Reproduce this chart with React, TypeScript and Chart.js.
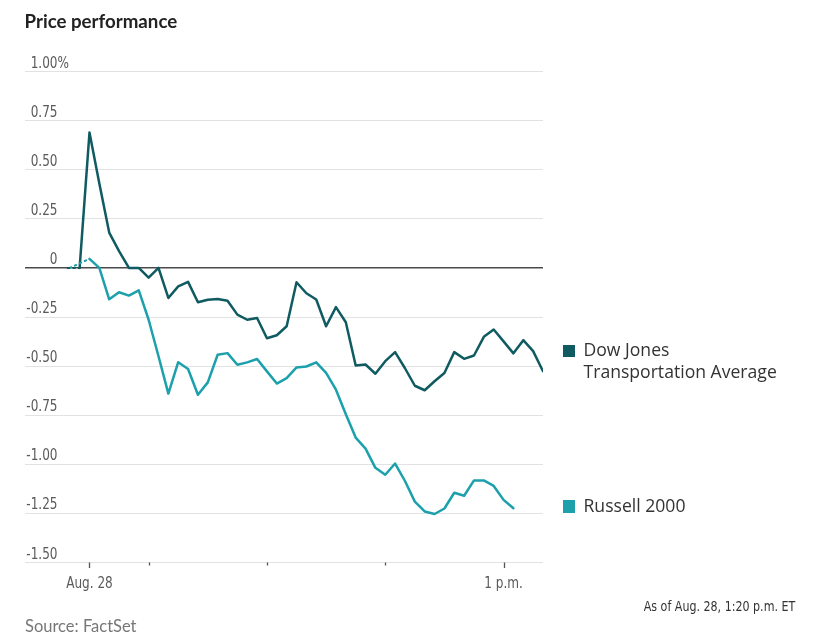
import React, { useEffect, useRef } from "react";
import { Chart, registerables } from "chart.js";

Chart.register(...registerables);

// ---- data (minutes after 9:30 a.m., 5-minute steps) ----
const STEP_MINUTES = 5;

const dowSeriesName = "Dow Jones Transportation Average";
const russellSeriesName = "Russell 2000";

// pre-market dotted segments (prior close -> open)
const dowPreTimes = [-11, -5];
const dowPreValues = [0, 0];
const russellPreTimes = [-10, 0];
const russellPreValues = [0, 0.046];

// first solid point of Dow before the 9:30 print
const dowLeadTime = -5;
const dowLeadValue = 0;

const dowValues = [
  0.689, 0.43, 0.18, 0.085, 0.0, 0.0, -0.05, 0.0, -0.153, -0.094,
  -0.071, -0.175, -0.162, -0.158, -0.167, -0.238, -0.264, -0.255, -0.358, -0.343,
  -0.297, -0.073, -0.129, -0.161, -0.297, -0.2, -0.277, -0.497, -0.492, -0.539,
  -0.475, -0.429, -0.511, -0.6, -0.623, -0.577, -0.535, -0.429, -0.463, -0.446,
  -0.351, -0.314, -0.374, -0.435, -0.368, -0.424, -0.526,
];

const russellValues = [
  0.046, 0.0, -0.16, -0.124, -0.141, -0.114, -0.264, -0.45, -0.64, -0.48,
  -0.515, -0.646, -0.583, -0.442, -0.434, -0.493, -0.481, -0.464, -0.527, -0.589,
  -0.561, -0.507, -0.502, -0.481, -0.535, -0.62, -0.745, -0.864, -0.92, -1.018,
  -1.053, -0.996, -1.085, -1.19, -1.24, -1.253, -1.225, -1.145, -1.16, -1.082,
  -1.082, -1.11, -1.181, -1.224,
];

const yTickValues = [1, 0.75, 0.5, 0.25, 0, -0.25, -0.5, -0.75, -1, -1.25, -1.5];
const yTickLabels = ["1.00%", "0.75", "0.50", "0.25", "0", "-0.25", "-0.50", "-0.75", "-1.00", "-1.25", "-1.50"];

const xTickValues = [0, 30, 90, 150, 210];
const xTickLabels = ["Aug. 28", "", "", "", "1 p.m."];

// ---- styles ----
const DOW_COLOR = "#0f5b61";
const RUSSELL_COLOR = "#1ba0ac";
const NARROW = "'Liberation Sans Narrow', 'DejaVu Sans Condensed', sans-serif";
const HUMAN = "Lato, 'Open Sans', sans-serif";
const LEGEND_FONT = "'Open Sans', Lato, sans-serif";
const SQUEEZE = 0.865;

const toPoints = (times: number[], values: number[]) =>
  values.map((v, i) => ({ x: times[i], y: v }));

function squeezedText(ctx: any, text: string, x: number, y: number, align: "left" | "right" | "center") {
  ctx.save();
  ctx.translate(x, y);
  ctx.scale(SQUEEZE, 1);
  ctx.textAlign = align;
  ctx.fillText(text, 0, 0);
  ctx.restore();
}

const axisTextPlugin = {
  id: "axisText",
  afterDraw(chart: any) {
    const { ctx, scales } = chart;
    const xs = scales.x;
    const ys = scales.y;
    const bottom = chart.chartArea.bottom;
    ctx.save();
    ctx.font = `15.5px ${NARROW}`;
    ctx.fillStyle = "#5a5a5a";
    ctx.textBaseline = "alphabetic";
    const rightX = 57.5;
    yTickValues.forEach((v, i) => {
      const y = ys.getPixelForValue(v) - 4;
      let label = yTickLabels[i];
      let suffix = "";
      if (label.endsWith("%")) {
        suffix = "%";
        label = label.slice(0, -1);
      }
      squeezedText(ctx, label, rightX, y, "right");
      if (suffix) squeezedText(ctx, suffix, rightX, y, "left");
    });
    ctx.strokeStyle = "#555";
    ctx.lineWidth = 1.3;
    xTickValues.forEach((v, i) => {
      const x = Math.round(xs.getPixelForValue(v)) + 0.5;
      const len = xTickLabels[i] ? 5.5 : 3;
      ctx.beginPath();
      ctx.moveTo(x, bottom);
      ctx.lineTo(x, bottom + len);
      ctx.stroke();
      if (xTickLabels[i]) {
        squeezedText(ctx, xTickLabels[i], xs.getPixelForValue(v), bottom + 25.5, "center");
      }
    });
    ctx.restore();
  },
};

export default function App() {
  const canvasRef = useRef<HTMLCanvasElement | null>(null);

  useEffect(() => {
    if (!canvasRef.current) return;
    const dowSolid = [
      { x: dowLeadTime, y: dowLeadValue },
      ...dowValues.map((v, i) => ({ x: i * STEP_MINUTES, y: v })),
    ];
    const russellSolid = russellValues.map((v, i) => ({ x: i * STEP_MINUTES, y: v }));

    const chart = new Chart(canvasRef.current, {
      type: "line",
      data: {
        datasets: [
          {
            label: dowSeriesName + " pre",
            data: toPoints(dowPreTimes, dowPreValues),
            borderColor: DOW_COLOR,
            borderWidth: 2,
            borderDash: [1.5, 4],
            pointRadius: 0,
            fill: false,
          },
          {
            label: russellSeriesName + " pre",
            data: toPoints(russellPreTimes, russellPreValues),
            borderColor: RUSSELL_COLOR,
            borderWidth: 2,
            borderDash: [1.5, 4],
            pointRadius: 0,
            fill: false,
          },
          {
            label: russellSeriesName,
            data: russellSolid,
            borderColor: RUSSELL_COLOR,
            borderWidth: 2.5,
            pointRadius: 0,
            tension: 0,
            fill: false,
          },
          {
            label: dowSeriesName,
            data: dowSolid,
            borderColor: DOW_COLOR,
            borderWidth: 2.5,
            pointRadius: 0,
            tension: 0,
            fill: false,
          },
        ],
      },
      options: {
        responsive: false,
        animation: false,
        layout: { padding: { left: 25, right: 283, top: 71.5, bottom: 78.5 } },
        plugins: { legend: { display: false }, tooltip: { enabled: false } },
        elements: { line: { borderJoinStyle: "round", borderCapStyle: "round" } },
        scales: {
          x: {
            type: "linear",
            min: -32.7,
            max: 230,
            display: false,
          },
          y: {
            type: "linear",
            min: -1.5,
            max: 1,
            display: true,
            ticks: { display: false, stepSize: 0.25 },
            border: { display: false },
            grid: {
              drawTicks: false,
              color: (c: any) => (c.tick && c.tick.value === 0 ? "#4a4a4a" : "#e2e2e2"),
              lineWidth: (c: any) => (c.tick && c.tick.value === 0 ? 1.5 : 1),
            },
          },
        },
      },
      plugins: [axisTextPlugin],
    } as any);
    return () => chart.destroy();
  }, []);

  return (
    <div style={{ position: "absolute", left: 0, top: 0, width: 826, height: 641, background: "#fff", overflow: "hidden" }}>
      <canvas ref={canvasRef} width={826} height={641} style={{ position: "absolute", left: 0, top: 0, width: 826, height: 641 }} />
      <div style={{ position: "absolute", left: 24.5, top: 12, font: `bold 18.7px ${HUMAN}`, lineHeight: "18.7px", color: "#222", whiteSpace: "nowrap" }}>
        Price performance
      </div>
      <div style={{ position: "absolute", left: 562.5, top: 344.5, width: 12.5, height: 12.5, background: DOW_COLOR }} />
      <div style={{ position: "absolute", left: 583.5, top: 338.2, font: `17.6px ${LEGEND_FONT}`, lineHeight: "22px", color: "#333", whiteSpace: "nowrap" }}>
        Dow Jones
        <br />
        Transportation Average
      </div>
      <div style={{ position: "absolute", left: 562.5, top: 500, width: 12.5, height: 12.5, background: RUSSELL_COLOR }} />
      <div style={{ position: "absolute", left: 583.5, top: 493.9, font: `17.6px ${LEGEND_FONT}`, lineHeight: "22px", color: "#333", whiteSpace: "nowrap" }}>
        {russellSeriesName}
      </div>
      <div style={{ position: "absolute", right: 826 - 795, top: 599, font: `14.5px ${NARROW}`, lineHeight: "14.5px", color: "#333", whiteSpace: "nowrap", transform: "scaleX(0.85)", transformOrigin: "right center" }}>
        As of Aug. 28, 1:20 p.m. ET
      </div>
      <div style={{ position: "absolute", left: 25, top: 618, font: `16.5px ${HUMAN}`, lineHeight: "16.5px", color: "#777", whiteSpace: "nowrap" }}>
        Source: FactSet
      </div>
    </div>
  );
}
